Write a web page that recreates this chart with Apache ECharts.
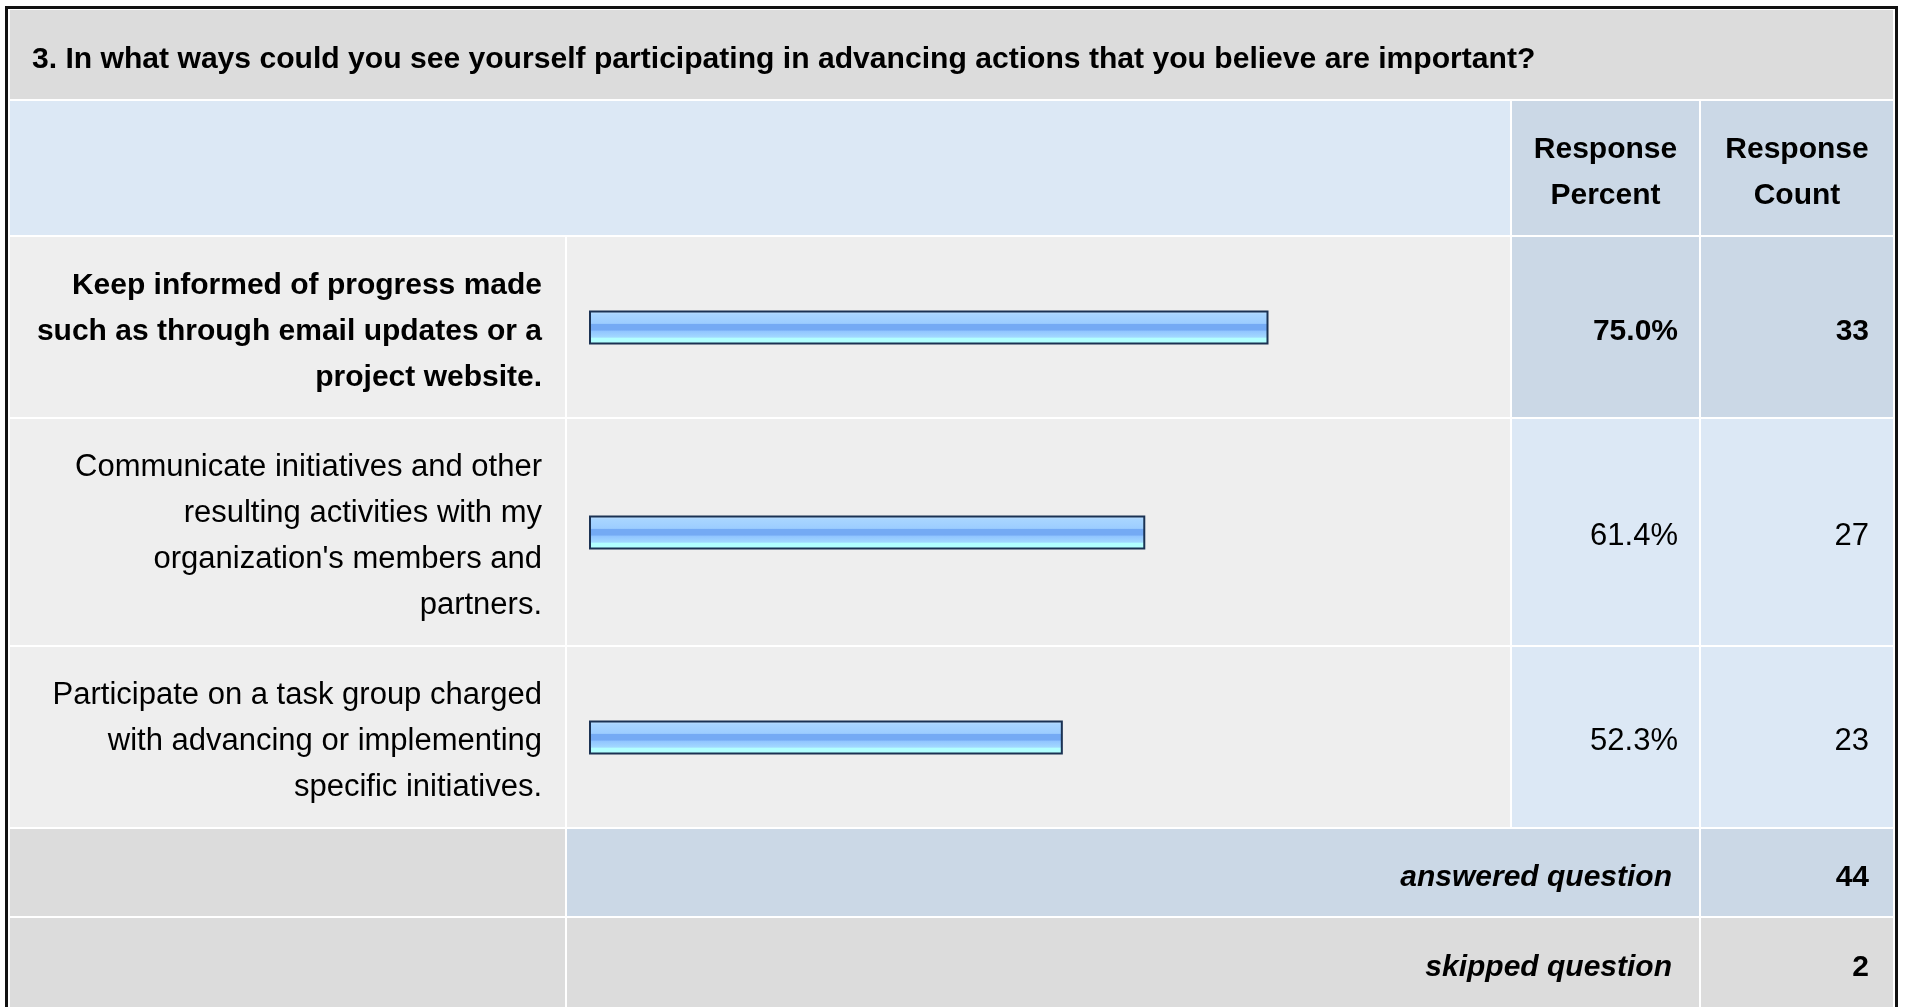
<!DOCTYPE html>
<html>
<head>
<meta charset="utf-8">
<script src="https://cdn.jsdelivr.net/npm/echarts@6/dist/echarts.min.js"></script>
<style>
  html, body { margin: 0; padding: 0; background: #fff; }
  #main { width: 1907px; height: 1007px; }
</style>
</head>
<body>
<div id="main"></div>
<script>
// question 3 - response table
const questionTitle = "3. In what ways could you see yourself participating in advancing actions that you believe are important?";
const answerChoices = [
  "Keep informed of progress made\nsuch as through email updates or a\nproject website.",
  "Communicate initiatives and other\nresulting activities with my\norganization's members and\npartners.",
  "Participate on a task group charged\nwith advancing or implementing\nspecific initiatives."
];
const responsePercent = [75.0, 61.4, 52.3];
const responseCount = [33, 27, 23];
const headerLabels = ["Response\nPercent", "Response\nCount"];
const summaryLabels = ["answered question", "skipped question"];
const summaryCounts = [44, 2];

const FONT = "'Liberation Sans', Arial, sans-serif";
const C = {
  grey: "#dcdcdc",
  body: "#eeeeee",
  blue: "#dce8f5",
  blueDark: "#cbd8e6",
  frame: "#111111",
  ink: "#000000"
};

// table geometry (px)
const colX = [10, 567, 1512, 1701];
const colEnd = [565, 1510, 1699, 1893];
const rowY = [10, 101, 237, 419, 647, 829, 918];
const rowEnd = [99, 235, 417, 645, 827, 916, 1010];

const topIdx = responseCount.indexOf(Math.max.apply(null, responseCount));

function rect(x1, y1, x2, y2, fill) {
  return { type: "rect", z: -10, silent: true,
    shape: { x: x1, y: y1, width: x2 - x1, height: y2 - y1 },
    style: { fill: fill } };
}
function txt(text, x, y, align, opts) {
  return { type: "text", z: 10, silent: true, x: x, y: y,
    style: Object.assign({ text: text, fill: C.ink, fontFamily: FONT, fontSize: 30,
      fontWeight: "bold", textAlign: align, textVerticalAlign: "middle", lineHeight: 46 }, opts || {}) };
}

const bg = [];
// title row
bg.push(rect(colX[0], rowY[0], colEnd[3], rowEnd[0], C.grey));
// header row
bg.push(rect(colX[0], rowY[1], colEnd[1], rowEnd[1], C.blue));
bg.push(rect(colX[2], rowY[1], colEnd[2], rowEnd[1], C.blueDark));
bg.push(rect(colX[3], rowY[1], colEnd[3], rowEnd[1], C.blueDark));
// answer rows
for (let i = 0; i < answerChoices.length; i++) {
  const r = i + 2;
  const cell = i === topIdx ? C.blueDark : C.blue;
  bg.push(rect(colX[0], rowY[r], colEnd[0], rowEnd[r], C.body));
  bg.push(rect(colX[1], rowY[r], colEnd[1], rowEnd[r], C.body));
  bg.push(rect(colX[2], rowY[r], colEnd[2], rowEnd[r], cell));
  bg.push(rect(colX[3], rowY[r], colEnd[3], rowEnd[r], cell));
}
// answered / skipped
bg.push(rect(colX[0], rowY[5], colEnd[0], rowEnd[5], C.grey));
bg.push(rect(colX[1], rowY[5], colEnd[2], rowEnd[5], C.blueDark));
bg.push(rect(colX[3], rowY[5], colEnd[3], rowEnd[5], C.blueDark));
bg.push(rect(colX[0], rowY[6], colEnd[0], rowEnd[6], C.grey));
bg.push(rect(colX[1], rowY[6], colEnd[2], rowEnd[6], C.grey));
bg.push(rect(colX[3], rowY[6], colEnd[3], rowEnd[6], C.grey));
// outer frame
bg.push({ type: "rect", z: 20, silent: true,
  shape: { x: 6.5, y: 7.5, width: 1890, height: 1020 },
  style: { fill: "none", stroke: C.frame, lineWidth: 3 } });

const texts = [
  txt(questionTitle, 32, 60, "left", { fontSize: 30.1 }),
  txt(headerLabels[0], (colX[2] + colEnd[2]) / 2, 173, "center"),
  txt(headerLabels[1], (colX[3] + colEnd[3]) / 2, 173, "center"),
  txt(summaryLabels[0], 1672, 878, "right", { fontStyle: "italic" }),
  txt(String(summaryCounts[0]), 1869, 878, "right"),
  txt(summaryLabels[1], 1672, 968, "right", { fontStyle: "italic" }),
  txt(String(summaryCounts[1]), 1869, 968, "right")
];

function richLines(value, idx) {
  const st = idx === topIdx ? "b" : "n";
  return String(value).split("\n").map(function (l) { return "{" + st + "|" + l + "}"; }).join("\n");
}
const richStyle = {
  b: { fontFamily: FONT, fontSize: 30, fontWeight: "bold", lineHeight: 46, color: C.ink, align: "right" },
  n: { fontFamily: FONT, fontSize: 31, fontWeight: "normal", lineHeight: 46, color: C.ink, align: "right" }
};
const hiddenAxis = { axisLine: { show: false }, axisTick: { show: false }, splitLine: { show: false } };

const chart = echarts.init(document.getElementById("main"), null, { renderer: "canvas" });
chart.setOption({
  animation: false,
  backgroundColor: "#ffffff",
  graphic: { elements: bg.concat(texts) },
  grid: { left: 589, top: 225, width: 906, height: 615, containLabel: false },
  xAxis: { type: "value", min: 0, max: 100, show: false },
  yAxis: [
    Object.assign({
      type: "category", inverse: true, position: "left", z: 5,
      data: answerChoices,
      axisLabel: { interval: 0, margin: 47, padding: [8, 0, 0, 0], formatter: richLines, rich: richStyle }
    }, hiddenAxis),
    Object.assign({
      type: "category", inverse: true, position: "right", z: 5,
      data: responsePercent.map(function (v) { return v.toFixed(1) + "%"; }),
      axisLabel: { interval: 0, margin: 183, align: "right", padding: [8, 0, 0, 0], formatter: richLines, rich: richStyle }
    }, hiddenAxis),
    Object.assign({
      type: "category", inverse: true, position: "right", z: 5,
      data: responseCount.map(String),
      axisLabel: { interval: 0, margin: 374, align: "right", padding: [8, 0, 0, 0], formatter: richLines, rich: richStyle }
    }, hiddenAxis)
  ],
  series: [{
    type: "bar",
    yAxisIndex: 0,
    z: 5,
    barWidth: 34,
    data: responsePercent,
    itemStyle: {
      borderColor: "#1b3253",
      borderWidth: 2,
      color: {
        type: "linear", x: 0, y: 0, x2: 0, y2: 1,
        colorStops: [
          { offset: 0, color: "#c8e4ff" },
          { offset: 0.12, color: "#a8d5ff" },
          { offset: 0.38, color: "#9ccdff" },
          { offset: 0.40, color: "#74aaf4" },
          { offset: 0.58, color: "#74aaf4" },
          { offset: 0.60, color: "#90c4ff" },
          { offset: 0.78, color: "#a2d8ff" },
          { offset: 0.82, color: "#b2ffff" },
          { offset: 1, color: "#b2ffff" }
        ]
      }
    },
    silent: true
  }]
});
window.addEventListener("resize", function () { chart.resize(); });
</script>
</body>
</html>
